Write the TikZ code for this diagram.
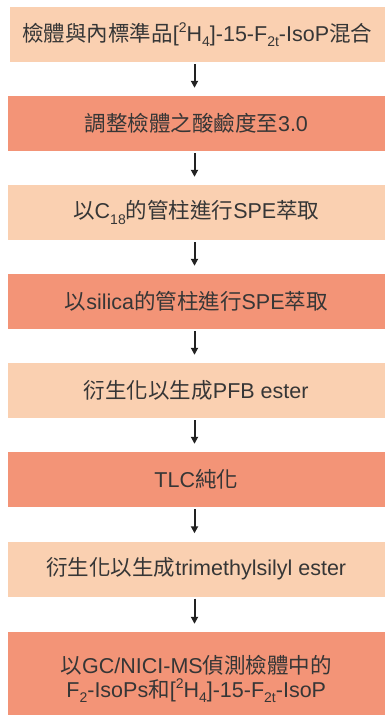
\documentclass[tikz,border=0pt]{standalone}
\usepackage{fontspec}
\setmainfont{Liberation Sans}
\newfontfamily\zhfont{Noto Sans CJK TC}
\usetikzlibrary{arrows.meta}
\newcommand\zh[1]{{\zhfont #1}}
\newcommand\lowr[1]{\raisebox{-0.24em}{\fontsize{14}{14}\selectfont #1}}
\newcommand\upr[1]{\raisebox{0.42em}{\fontsize{14}{14}\selectfont #1}}
\definecolor{lightbox}{HTML}{FAD0B1}
\definecolor{darkbox}{HTML}{F39477}
\definecolor{txtcol}{HTML}{363636}
\definecolor{arrcol}{HTML}{222222}
\tikzset{
  stepbox/.style={rectangle, draw=none, minimum width=377.5pt, minimum height=55pt, inner sep=0pt,
    text=txtcol, font=\fontsize{21.5}{24}\selectfont},
  lightstep/.style={stepbox, fill=lightbox},
  darkstep/.style={stepbox, fill=darkbox},
  flowarrow/.style={draw=arrcol, line width=2pt, -{Triangle[length=7pt,width=7pt]}},
}
\begin{document}
\begin{tikzpicture}[x=1pt,y=-1pt]
\useasboundingbox (0,0) rectangle (385,715);
\coordinate (ax) at (194.5,0);
\node[lightstep, minimum width=375.5pt] (b1) at (197.25,34.5) {\zh{檢體與內標準品}[\upr{2}H\lowr{4}]-15-F\lowr{2t}-IsoP\zh{混合}};
\node[darkstep] (b2) at (196.25,123.5) {\zh{調整檢體之酸鹼度至}3.0};
\node[lightstep] (b3) at (196.25,212.5) {\zh{以}C\lowr{18}\zh{的管柱進行}SPE\zh{萃取}};
\node[darkstep] (b4) at (196.25,301.5) {\zh{以}silica\zh{的管柱進行}SPE\zh{萃取}};
\node[lightstep] (b5) at (196.25,390.5) {\zh{衍生化以生成}PFB ester};
\node[darkstep] (b6) at (196.25,479.5) {TLC\zh{純化}};
\node[lightstep] (b7) at (196.25,569) {\zh{衍生化以生成}trimethylsilyl ester};
\node[darkstep, minimum height=83pt] (b8) at (196.25,673.5) {};
\node[text=txtcol, font=\fontsize{21.5}{24}\selectfont, align=center, inner sep=0pt] (t8) at (196.25,679)
  {\zh{以}GC/NICI-MS\zh{偵測檢體中的}\\F\lowr{2}-IsoPs\zh{和}[\upr{2}H\lowr{4}]-15-F\lowr{2t}-IsoP};
\draw[flowarrow] ([yshift=-2pt]b1.south -| ax) -- ([yshift=8pt]b2.north -| ax);
\draw[flowarrow] ([yshift=-2pt]b2.south -| ax) -- ([yshift=8pt]b3.north -| ax);
\draw[flowarrow] ([yshift=-2pt]b3.south -| ax) -- ([yshift=8pt]b4.north -| ax);
\draw[flowarrow] ([yshift=-2pt]b4.south -| ax) -- ([yshift=8pt]b5.north -| ax);
\draw[flowarrow] ([yshift=-2pt]b5.south -| ax) -- ([yshift=8pt]b6.north -| ax);
\draw[flowarrow] ([yshift=-2pt]b6.south -| ax) -- ([yshift=8pt]b7.north -| ax);
\draw[flowarrow] ([yshift=-2pt]b7.south -| ax) -- ([yshift=8pt]b8.north -| ax);
\end{tikzpicture}
\end{document}
